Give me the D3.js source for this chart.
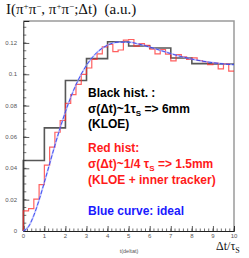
<!DOCTYPE html>
<html>
<head>
<meta charset="utf-8">
<script src="https://cdn.jsdelivr.net/npm/d3@7"></script>
<style>
  html, body { margin: 0; padding: 0; background: #fff; }
  svg { display: block; }
  text { white-space: pre; }
</style>
</head>
<body>
<div id="chart"></div>
<script>
// black histogram, 1 tau_S bins
const blackEdges = [0, 1, 2, 3, 4, 5, 6, 7, 8, 9, 10];
const blackValues = [0.0450, 0.0658, 0.0960, 0.1100, 0.1208, 0.1180, 0.1168, 0.1104, 0.1068, 0.1066];

// red histogram, 0.25 tau_S bins
const redStart = [0, 0.25, 0.5, 0.75, 1, 1.25, 1.5, 1.75, 2, 2.25, 2.5, 2.75, 3, 3.25, 3.5, 3.75,
  4, 4.25, 4.5, 4.75, 5, 5.25, 5.5, 5.75, 6, 6.25, 6.5, 6.75, 7, 7.25, 7.5, 7.75,
  8, 8.25, 8.5, 8.75, 9, 9.25, 9.5, 9.75];
const redValues = [0.0128, 0.0143, 0.0203, 0.0296, 0.0420, 0.0535, 0.0630, 0.0705, 0.0815, 0.0870,
  0.0935, 0.1000, 0.1040, 0.1095, 0.1130, 0.1175, 0.1190, 0.1145, 0.1155, 0.1218,
  0.1222, 0.1180, 0.1195, 0.1185, 0.1160, 0.1130, 0.1158, 0.1128, 0.1085, 0.1125,
  0.1112, 0.1095, 0.1105, 0.1088, 0.1080, 0.1062, 0.1072, 0.1035, 0.1068, 0.1020];

// blue ideal curve, read every 0.25 / 0.5 tau_S
const blueT = [0, 0.25, 0.5, 0.75, 1, 1.25, 1.5, 1.75, 2, 2.5, 3, 3.5, 4, 4.5, 5, 5.5,
  6, 6.5, 7, 7.5, 8, 8.5, 9, 9.5, 10];
const blueValues = [0, 0.0028, 0.0100, 0.0198, 0.0311, 0.0429, 0.0547, 0.0658, 0.0761, 0.0933,
  0.1058, 0.1140, 0.1186, 0.1205, 0.1205, 0.1192, 0.1174, 0.1153, 0.1132, 0.1113,
  0.1097, 0.1084, 0.1074, 0.1066, 0.1061];

const yTicks = [0, 0.02, 0.04, 0.06, 0.08, 0.1, 0.12];
const yTickLabels = ['0', '0.02', '0.04', '0.06', '0.08', '0.1', '0.12'];
const xTicks = [0, 1, 2, 3, 4, 5, 6, 7, 8, 9, 10];

const W = 249, H = 258;
const margin = { top: 21, right: 15, bottom: 27, left: 23.3 };

const svg = d3.select('#chart')
  .append('svg')
  .attr('width', W)
  .attr('height', H);

const x = d3.scaleLinear().domain([0, 10]).range([margin.left, W - margin.right]);
const y = d3.scaleLinear().domain([0, 0.134]).range([H - margin.bottom, margin.top]);

// frame
svg.append('path')
  .attr('d', `M${x(0)},${y(0.134)}H${x(10)}V${y(0)}`)
  .attr('fill', 'none')
  .attr('stroke', '#9a9a9a')
  .attr('stroke-width', 1.5);

// y axis (ticks inside)
const yAxis = d3.axisRight(y)
  .tickValues(yTicks)
  .tickSize(6)
  .tickFormat('');
const yg = svg.append('g')
  .attr('transform', `translate(${x(0)},0)`)
  .call(yAxis);
yg.selectAll('line').attr('stroke', '#333').attr('stroke-width', 0.8);
yg.select('.domain').attr('stroke', '#222').attr('stroke-width', 1);

const yMinor = d3.range(0, 0.1341, 0.005);
svg.append('g').selectAll('line')
  .data(yMinor)
  .enter().append('line')
  .attr('x1', x(0)).attr('x2', x(0) + 3)
  .attr('y1', d => y(d)).attr('y2', d => y(d))
  .attr('stroke', '#333').attr('stroke-width', 0.7);

svg.append('g').selectAll('text')
  .data(yTicks)
  .enter().append('text')
  .attr('x', 17)
  .attr('y', d => y(d) + 2)
  .attr('text-anchor', 'end')
  .attr('font-family', 'Liberation Sans, Arial, sans-serif')
  .attr('font-size', 6)
  .attr('fill', '#555')
  .text((d, i) => yTickLabels[i]);

// x axis (ticks up)
const xAxis = d3.axisTop(x)
  .tickValues(xTicks)
  .tickSize(5)
  .tickFormat('');
const xg = svg.append('g')
  .attr('transform', `translate(0,${y(0)})`)
  .call(xAxis);
xg.selectAll('line').attr('stroke', '#333').attr('stroke-width', 0.8);
xg.select('.domain').attr('stroke', '#222').attr('stroke-width', 1);

const xMinor = d3.range(0, 10.01, 0.2);
svg.append('g').selectAll('line')
  .data(xMinor)
  .enter().append('line')
  .attr('x1', d => x(d)).attr('x2', d => x(d))
  .attr('y1', y(0)).attr('y2', y(0) - 2.5)
  .attr('stroke', '#333').attr('stroke-width', 0.7);

svg.append('g').selectAll('text')
  .data(xTicks)
  .enter().append('text')
  .attr('x', d => x(d))
  .attr('y', y(0) + 7)
  .attr('text-anchor', 'middle')
  .attr('font-family', 'Liberation Sans, Arial, sans-serif')
  .attr('font-size', 6)
  .attr('fill', '#555')
  .text(d => d);

svg.append('text')
  .attr('x', 129).attr('y', 253)
  .attr('text-anchor', 'middle')
  .attr('font-family', 'Liberation Sans, Arial, sans-serif')
  .attr('font-size', 5.5)
  .attr('fill', '#555')
  .text('t(deltat)');

// axis titles
svg.append('text')
  .attr('x', 6).attr('y', 14)
  .attr('font-family', 'Liberation Serif, Times New Roman, serif')
  .attr('font-size', 15)
  .attr('fill', '#111')
  .html('I(π<tspan dy="-5" font-size="9">+</tspan><tspan dy="5">π</tspan><tspan dy="-5" font-size="9">−</tspan><tspan dy="5">, π</tspan><tspan dy="-5" font-size="9">+</tspan><tspan dy="5">π</tspan><tspan dy="-5" font-size="9">−</tspan><tspan dy="5">;Δt)  (a.u.)</tspan>');

svg.append('text')
  .attr('x', 216).attr('y', 250)
  .attr('font-family', 'Liberation Serif, Times New Roman, serif')
  .attr('font-size', 12)
  .attr('fill', '#111')
  .html('Δt/τ<tspan dy="3" font-size="8">S</tspan>');

// histograms
function stepPath(edges, vals) {
  let p = `M${x(edges[0])},${y(0)}`;
  vals.forEach((v, i) => {
    p += `V${y(v)}H${x(edges[i + 1])}`;
  });
  return p;
}

const redEdges = redStart.concat([10]);

svg.append('path')
  .attr('d', stepPath(blackEdges, blackValues))
  .attr('fill', 'none')
  .attr('stroke', '#3a3a3a')
  .attr('stroke-opacity', 0.85)
  .attr('stroke-width', 1.6);

svg.append('path')
  .attr('d', stepPath(redEdges, redValues))
  .attr('fill', 'none')
  .attr('stroke', '#ff2a2a')
  .attr('stroke-opacity', 0.75)
  .attr('stroke-width', 1.2);

const line = d3.line()
  .x((d, i) => x(blueT[i]))
  .y(d => y(d))
  .curve(d3.curveMonotoneX);

svg.append('path')
  .attr('d', line(blueValues))
  .attr('fill', 'none')
  .attr('stroke', '#9aa0ff')
  .attr('stroke-width', 1.8)
  .attr('stroke-opacity', 0.6);
svg.append('path')
  .attr('d', line(blueValues))
  .attr('fill', 'none')
  .attr('stroke', '#2233ee')
  .attr('stroke-width', 0.8)
  .attr('stroke-dasharray', '4,2');

// annotations
const notes = [
  { t: 'Black hist. :', y: 97, c: '#000' },
  { t: 'σ(Δt)~1τ', sub: 'S', rest: ' => 6mm', y: 113, c: '#000' },
  { t: '(KLOE)', y: 128, c: '#000' },
  { t: 'Red hist:', y: 152, c: '#ff1a1a' },
  { t: 'σ(Δt)~1/4 τ', sub: 'S', rest: ' => 1.5mm', y: 168, c: '#ff1a1a' },
  { t: '(KLOE + inner tracker)', y: 184, c: '#ff1a1a' },
  { t: 'Blue curve: ideal', y: 215, c: '#1a1aff' }
];

notes.forEach(n => {
  const t = svg.append('text')
    .attr('x', 88).attr('y', n.y)
    .attr('font-family', 'Liberation Sans, Arial, sans-serif')
    .attr('font-size', 12)
    .attr('font-weight', 'bold')
    .attr('fill', n.c)
    .text(n.t);
  if (n.sub) {
    t.append('tspan').attr('dy', 3).attr('font-size', 8).text(n.sub);
    t.append('tspan').attr('dy', -3).text(n.rest);
  }
});
</script>
</body>
</html>
